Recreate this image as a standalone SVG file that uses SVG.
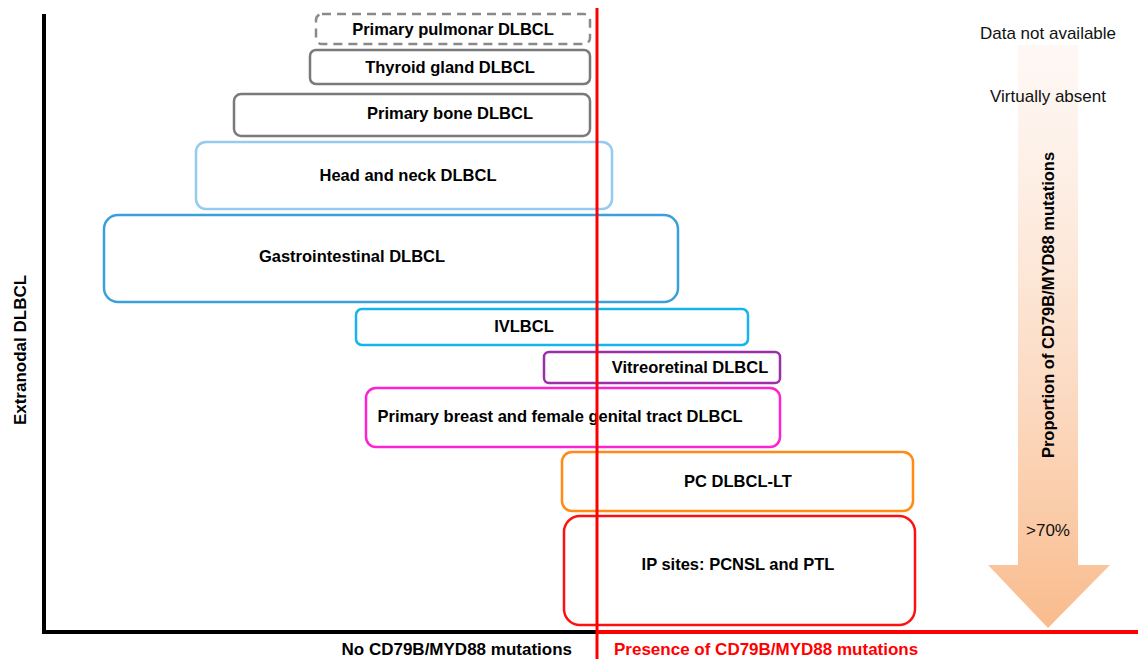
<svg xmlns="http://www.w3.org/2000/svg" width="1138" height="659" viewBox="0 0 1138 659">
<style>
.lbl{font-family:"Liberation Sans",Arial,sans-serif;font-weight:bold;font-size:16.5px;fill:#000;text-anchor:middle;dominant-baseline:central}
.plain{font-family:"Liberation Sans",Arial,sans-serif;font-size:17px;fill:#111;text-anchor:middle;dominant-baseline:central}
.axis{font-size:17px}
.box{fill:#fff;stroke-width:2.5}
</style>
<defs>
<linearGradient id="ag" x1="0" y1="0" x2="0" y2="1">
<stop offset="0" stop-color="#fdf1ea" stop-opacity="0.5"/>
<stop offset="1" stop-color="#f9bb8c"/>
</linearGradient>
</defs>
<rect width="1138" height="659" fill="#fff"/>
<g id="gradient-arrow">
<path d="M1018,45 L1078,45 L1078,565 L1110,565 L1048,628 L988,565 L1018,565 Z" fill="url(#ag)"/>
<text class="plain" x="1048" y="33">Data not available</text>
<text class="plain" x="1048" y="96">Virtually absent</text>
<text class="lbl" transform="translate(1048,305) rotate(-90)">Proportion of CD79B/MYD88 mutations</text>
<text class="plain" x="1048" y="530">&gt;70%</text>
</g>
<g id="n1"><rect class="box" x="316" y="14" width="274" height="30" rx="6" stroke="#8a8a8a" stroke-dasharray="9,6"/><text class="lbl" x="453" y="29">Primary pulmonar DLBCL</text></g>
<g id="n2"><rect class="box" x="310" y="50" width="280" height="34" rx="6" stroke="#7a7a7a"/><text class="lbl" x="450" y="67">Thyroid gland DLBCL</text></g>
<g id="n3"><rect class="box" x="234" y="94" width="356" height="42" rx="7" stroke="#7a7a7a"/><text class="lbl" x="450" y="113">Primary bone DLBCL</text></g>
<g id="n4"><rect class="box" x="196" y="142" width="416" height="67" rx="10" stroke="#94cbee"/><text class="lbl" x="408" y="175">Head and neck DLBCL</text></g>
<g id="n5"><rect class="box" x="104" y="215" width="574" height="87" rx="14" stroke="#3aa0dc" stroke-width="3"/><text class="lbl" x="352" y="256">Gastrointestinal DLBCL</text></g>
<g id="n6"><rect class="box" x="356" y="309" width="392" height="36" rx="6" stroke="#14b4ec" stroke-width="3"/><text class="lbl" x="524" y="326">IVLBCL</text></g>
<g id="n7"><rect class="box" x="544" y="352" width="236" height="31" rx="5" stroke="#9c2ea8" stroke-width="3"/><text class="lbl" x="690" y="367">Vitreoretinal DLBCL</text></g>
<g id="n8"><rect class="box" x="366" y="388" width="414" height="59" rx="10" stroke="#ff22d2" stroke-width="3"/><text class="lbl" x="560" y="416">Primary breast and female genital tract DLBCL</text></g>
<g id="n9"><rect class="box" x="562" y="452" width="351" height="59" rx="10" stroke="#ff8a14" stroke-width="3"/><text class="lbl" x="738" y="481">PC DLBCL-LT</text></g>
<g id="n10"><rect class="box" x="564" y="516" width="351" height="109" rx="16" stroke="#ff1010" stroke-width="3"/><text class="lbl" x="738" y="564">IP sites: PCNSL and PTL</text></g>
<g id="connectors">
<line x1="44" y1="14" x2="44" y2="634" stroke="#000" stroke-width="4"/>
<line x1="42" y1="632" x2="597" y2="632" stroke="#000" stroke-width="4"/>
<line x1="597" y1="632" x2="1138" y2="632" stroke="#ff0000" stroke-width="4"/>
<line x1="597" y1="8" x2="597" y2="659" stroke="#ff0000" stroke-width="3"/>
</g>
<text class="lbl axis" transform="translate(20,350) rotate(-90)">Extranodal DLBCL</text>
<text class="lbl axis" x="572" y="649" style="text-anchor:end">No CD79B/MYD88 mutations</text>
<text class="lbl axis" x="614" y="649" style="text-anchor:start;fill:#ff0000">Presence of CD79B/MYD88 mutations</text>
</svg>
